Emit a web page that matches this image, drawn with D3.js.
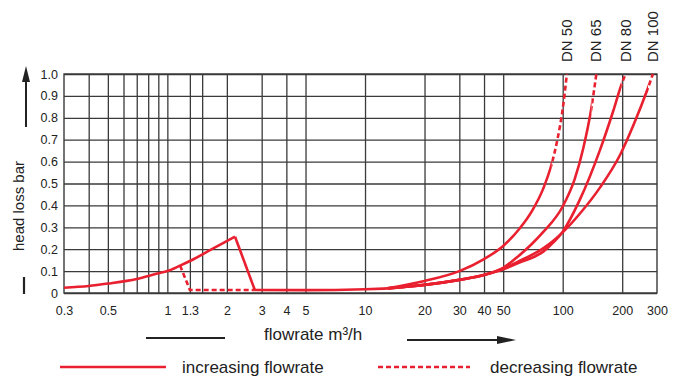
<!DOCTYPE html>
<html>
<head>
<meta charset="utf-8">
<script src="https://cdn.jsdelivr.net/npm/d3@7"></script>
<style>
  body { margin: 0; background: #fff; }
  text { font-family: "Liberation Sans", Arial, sans-serif; fill: #222; }
  .grid line { stroke: #3a3a3a; stroke-width: 1.3; }
  .grid path { display: none; }
  .ticks path, .ticks line { display: none; }
  .ticks text { font-size: 12.5px; }
  .curve { fill: none; stroke: #e8202f; stroke-width: 2.6; }
  .dashed { stroke-dasharray: 5, 3; }
</style>
</head>
<body>
<script>
// grid + labels
const xGrid = [0.4, 0.5, 0.6, 0.7, 0.8, 0.9, 1, 1.3, 1.5, 2, 3, 4, 5, 10, 20, 30, 40, 50, 100, 200];
const xLabels = [0.3, 0.5, 1, 1.3, 2, 3, 4, 5, 10, 20, 30, 40, 50, 100, 200, 300];
const yTicks = [0, 0.1, 0.2, 0.3, 0.4, 0.5, 0.6, 0.7, 0.8, 0.9, 1.0];

// low flow part [flowrate m3/h, head loss bar]
const lowRise = [[0.3, 0.024], [0.4, 0.032], [0.5, 0.043], [0.7, 0.064], [0.9, 0.09], [1, 0.1],
  [1.16, 0.125], [1.3, 0.146], [1.6, 0.19], [2.2, 0.257]];
const lowBase = [[2.77, 0.014], [5, 0.013], [10, 0.017], [13, 0.021]];
const lowDecreasing = [[1.16, 0.125], [1.3, 0.014], [2.77, 0.014]];

// DN curves, solid part then dashed part
const dn50Solid = [[13, 0.021], [20, 0.055], [30, 0.1], [40, 0.155], [50, 0.215], [60, 0.29], [70, 0.375], [80, 0.48], [88, 0.59]];
const dn50Dashed = [[88, 0.59], [94, 0.7], [100, 0.84], [105, 1.0]];
const dn65Solid = [[13, 0.021], [20, 0.037], [30, 0.06], [40, 0.082], [50, 0.115], [60, 0.17], [70, 0.225], [80, 0.28],
  [100, 0.395], [115, 0.52], [127, 0.66], [140, 0.85]];
const dn65Dashed = [[140, 0.85], [148, 1.0]];
const dn80Solid = [[13, 0.021], [20, 0.037], [30, 0.06], [40, 0.082], [50, 0.108], [60, 0.138], [80, 0.19], [90, 0.232], [100, 0.28],
  [122, 0.425], [154, 0.65], [180, 0.83], [198, 0.95]];
const dn80Dashed = [[198, 0.95], [208, 1.0]];
const dn100Solid = [[13, 0.021], [20, 0.037], [30, 0.06], [40, 0.083], [50, 0.112], [60, 0.145], [80, 0.205], [90, 0.24], [100, 0.277],
  [122, 0.362], [154, 0.48], [195, 0.63], [230, 0.775], [270, 0.936]];
const dn100Dashed = [[270, 0.936], [286, 1.0]];

const dnNames = ['DN 50', 'DN 65', 'DN 80', 'DN 100'];

const svg = d3.select('body').append('svg').attr('width', 675).attr('height', 376);

const plotLeft = 64, plotRight = 657, plotTop = 74, plotBottom = 293;

const x = d3.scaleLog().domain([0.3, 300]).range([plotLeft, plotRight]);
const y = d3.scaleLinear().domain([0, 1]).range([plotBottom, plotTop]);

// vertical grid
svg.append('g')
  .attr('class', 'grid')
  .attr('transform', `translate(0, ${plotBottom})`)
  .call(d3.axisBottom(x).tickValues(xGrid).tickSize(-(plotBottom - plotTop)).tickFormat(''));

// horizontal grid + y labels
svg.append('g')
  .attr('class', 'grid')
  .attr('transform', `translate(${plotLeft}, 0)`)
  .call(d3.axisLeft(y).tickValues(yTicks).tickSize(-(plotRight - plotLeft)).tickPadding(6)
    .tickFormat(d => d === 0 ? '0' : d.toFixed(1)))
  .call(g => g.selectAll('text').style('font-size', '12.5px').attr('fill', '#222'));

// frame
svg.append('rect')
  .attr('x', plotLeft).attr('y', plotTop)
  .attr('width', plotRight - plotLeft).attr('height', plotBottom - plotTop)
  .attr('fill', 'none').attr('stroke', '#3a3a3a').attr('stroke-width', 1.4);

// x labels
svg.append('g')
  .attr('class', 'ticks')
  .attr('transform', `translate(0, ${plotBottom})`)
  .call(d3.axisBottom(x).tickValues(xLabels).tickSize(0).tickPadding(13).tickFormat(d => String(d)))
  .call(g => g.selectAll('text').attr('fill', '#222'));

const smooth = d3.line().x(d => x(d[0])).y(d => y(d[1])).curve(d3.curveMonotoneX);
const straight = d3.line().x(d => x(d[0])).y(d => y(d[1]));

const plot = svg.append('g');

plot.append('path').attr('class', 'curve').attr('d', smooth(lowRise));
plot.append('path').attr('class', 'curve').attr('d', straight([lowRise[lowRise.length - 1], lowBase[0]]));
plot.append('path').attr('class', 'curve').attr('d', smooth(lowBase));
plot.append('path').attr('class', 'curve dashed').attr('d', straight(lowDecreasing));

const solids = [dn50Solid, dn65Solid, dn80Solid, dn100Solid];
const dashes = [dn50Dashed, dn65Dashed, dn80Dashed, dn100Dashed];

const defs = svg.append('defs');

// one smooth path per curve, split into solid / dashed with clip rects
solids.forEach((s, i) => {
  const full = s.concat(dashes[i].slice(1));
  const split = x(dashes[i][0][0]);

  defs.append('clipPath').attr('id', 'solid' + i)
    .append('rect').attr('x', 0).attr('y', 0).attr('width', split).attr('height', 376);
  defs.append('clipPath').attr('id', 'dash' + i)
    .append('rect').attr('x', split).attr('y', 0).attr('width', 675 - split).attr('height', 376);

  plot.append('path').attr('class', 'curve').attr('clip-path', `url(#solid${i})`).attr('d', smooth(full));
  plot.append('path').attr('class', 'curve dashed').attr('clip-path', `url(#dash${i})`).attr('d', smooth(full));
});

// DN labels above the curve ends
dashes.forEach((s, i) => {
  const end = s[s.length - 1];
  const lx = x(end[0]) + 5;
  svg.append('text')
    .attr('transform', `translate(${lx}, 62) rotate(-90)`)
    .style('font-size', '15px')
    .text(dnNames[i]);
});

// y axis title + arrow
svg.append('text')
  .attr('transform', 'translate(24, 206) rotate(-90)')
  .attr('text-anchor', 'middle')
  .style('font-size', '15px')
  .text('head loss bar');

svg.append('line').attr('x1', 26).attr('x2', 26).attr('y1', 78).attr('y2', 127)
  .attr('stroke', '#222').attr('stroke-width', 2);
svg.append('path').attr('d', 'M26,66 L22,82 L30,82 Z').attr('fill', '#222');
svg.append('line').attr('x1', 24).attr('x2', 24).attr('y1', 277).attr('y2', 294)
  .attr('stroke', '#222').attr('stroke-width', 2.2);

// x axis title + arrow
svg.append('text')
  .attr('x', 264).attr('y', 340)
  .style('font-size', '17px')
  .text('flowrate m³/h');

svg.append('line').attr('x1', 146).attr('x2', 225).attr('y1', 338).attr('y2', 338)
  .attr('stroke', '#222').attr('stroke-width', 2);
svg.append('line').attr('x1', 407).attr('x2', 500).attr('y1', 340).attr('y2', 340)
  .attr('stroke', '#222').attr('stroke-width', 2);
svg.append('path').attr('d', 'M516,340 L497,336 L497,344 Z').attr('fill', '#222');

// legend
svg.append('line').attr('x1', 60).attr('x2', 166).attr('y1', 367).attr('y2', 367)
  .attr('class', 'curve');
svg.append('text').attr('x', 182).attr('y', 373).style('font-size', '17px').text('increasing flowrate');
svg.append('line').attr('x1', 378).attr('x2', 470).attr('y1', 367).attr('y2', 367)
  .attr('class', 'curve dashed');
svg.append('text').attr('x', 490).attr('y', 373).style('font-size', '17px').text('decreasing flowrate');
</script>
</body>
</html>
